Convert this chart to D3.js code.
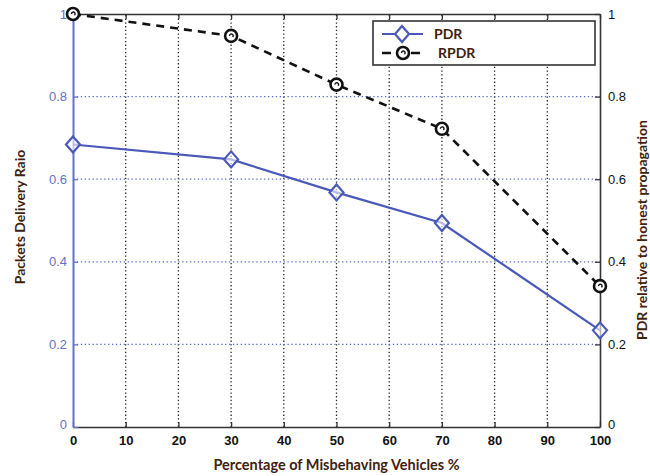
<!DOCTYPE html>
<html>
<head>
<meta charset="utf-8">
<script src="https://cdn.jsdelivr.net/npm/d3@7"></script>
<style>
  body { margin: 0; background: #fff; }
  svg { display: block; }
</style>
</head>
<body>
<div id="chart"></div>
<script>
// Data
const misbehaving = [0, 30, 50, 70, 100];
const pdrValues = [0.684, 0.648, 0.568, 0.494, 0.234];
const rpdrValues = [1.0, 0.947, 0.829, 0.722, 0.341];
const xTicks = [0, 10, 20, 30, 40, 50, 60, 70, 80, 90, 100];
const yTicks = [0, 0.2, 0.4, 0.6, 0.8, 1];
const seriesNames = ['PDR', 'RPDR'];

const width = 650;
const height = 476;
const margin = {top: 14, left: 73, right: 50, bottom: 49};

const blue = '#4a58b8';
const axisBlue = '#6572c8';
const titleColor = '#3f220c';
const fontTick = '"Liberation Sans", Arial, sans-serif';
const fontTitle = 'Lato, "Open Sans", sans-serif';

const svg = d3.select('#chart')
  .append('svg')
  .attr('width', width)
  .attr('height', height);

const xScale = d3.scaleLinear()
  .domain([0, 100])
  .range([margin.left, width - margin.right]);

const yScale = d3.scaleLinear()
  .domain([0, 1])
  .range([height - margin.bottom, margin.top]);

const x0 = xScale(0), x1 = xScale(100), y0 = yScale(0), y1 = yScale(1);

// Grid lines
svg.append('g')
  .selectAll('line')
  .data(xTicks.slice(1, -1))
  .enter()
  .append('line')
  .attr('x1', d => xScale(d)).attr('x2', d => xScale(d))
  .attr('y1', y0).attr('y2', y1)
  .attr('stroke', '#222')
  .attr('stroke-width', 1.3)
  .attr('stroke-dasharray', '1.3,2.4');

svg.append('g')
  .selectAll('line')
  .data(yTicks.slice(1, -1))
  .enter()
  .append('line')
  .attr('x1', x0).attr('x2', x1)
  .attr('y1', d => yScale(d)).attr('y2', d => yScale(d))
  .attr('stroke', '#5a66cc')
  .attr('stroke-width', 1.3)
  .attr('stroke-dasharray', '1.3,2.6');

// Bottom axis
const xAxis = svg.append('g')
  .attr('transform', `translate(0, ${y0})`)
  .call(d3.axisBottom(xScale).tickValues(xTicks).tickSizeInner(-5).tickSizeOuter(0).tickPadding(9));
xAxis.select('.domain').attr('stroke', '#333').attr('stroke-width', 1.6);
xAxis.selectAll('line').attr('stroke', '#333').attr('stroke-width', 1.3);
xAxis.selectAll('text')
  .style('font-family', fontTick)
  .style('font-size', '13px')
  .style('font-weight', 'bold')
  .attr('fill', '#111');

// Top axis (ticks only)
const topAxis = svg.append('g')
  .attr('transform', `translate(0, ${y1})`)
  .call(d3.axisTop(xScale).tickValues(xTicks).tickSizeInner(-5).tickSizeOuter(0));
topAxis.select('.domain').attr('stroke', '#333').attr('stroke-width', 1.6);
topAxis.selectAll('line').attr('stroke', '#333').attr('stroke-width', 1.3);
topAxis.selectAll('text').remove();

// Right axis
const rightAxis = svg.append('g')
  .attr('transform', `translate(${x1}, 0)`)
  .call(d3.axisRight(yScale).tickValues(yTicks).tickFormat(d3.format('~g')).tickSizeInner(-5).tickSizeOuter(0).tickPadding(8));
rightAxis.select('.domain').attr('stroke', '#333').attr('stroke-width', 1.6);
rightAxis.selectAll('line').attr('stroke', '#333').attr('stroke-width', 1.3);
rightAxis.selectAll('text')
  .style('font-family', fontTick)
  .style('font-size', '13px')
  .attr('fill', '#111');
rightAxis.selectAll('.tick')
  .filter(d => d === 0)
  .select('text').attr('dy', '0.1em');

// Left axis
const leftAxis = svg.append('g')
  .attr('transform', `translate(${x0}, 0)`)
  .call(d3.axisLeft(yScale).tickValues(yTicks).tickFormat(d3.format('~g')).tickSizeInner(-5).tickSizeOuter(0).tickPadding(6));
leftAxis.select('.domain').attr('stroke', axisBlue).attr('stroke-width', 2);
leftAxis.selectAll('line').attr('stroke', axisBlue).attr('stroke-width', 1.3);
leftAxis.selectAll('text')
  .style('font-family', fontTick)
  .style('font-size', '13px')
  .attr('fill', axisBlue);
leftAxis.selectAll('.tick')
  .filter(d => d === 0)
  .select('text').attr('dy', '0.1em');

// Axis titles
svg.append('text')
  .attr('x', (x0 + x1) / 2)
  .attr('y', 470)
  .style('text-anchor', 'middle')
  .style('font-family', fontTitle)
  .style('font-size', '14.5px')
  .style('font-weight', 'bold')
  .attr('fill', titleColor)
  .text('Percentage of Misbehaving Vehicles %');

svg.append('text')
  .attr('transform', 'rotate(-90)')
  .attr('x', -217)
  .attr('y', 25)
  .style('text-anchor', 'middle')
  .style('font-family', fontTitle)
  .style('font-size', '14px')
  .style('font-weight', 'bold')
  .attr('fill', titleColor)
  .text('Packets Delivery Raio');

svg.append('text')
  .attr('transform', 'rotate(-90)')
  .attr('x', -340)
  .attr('y', 647)
  .style('text-anchor', 'start')
  .style('font-family', fontTitle)
  .style('font-size', '14px')
  .style('font-weight', 'bold')
  .attr('fill', titleColor)
  .text('PDR relative to honest propagation');

// Lines
const pdrData = misbehaving.map((m, i) => ({x: m, y: pdrValues[i]}));
const rpdrData = misbehaving.map((m, i) => ({x: m, y: rpdrValues[i]}));

const line = d3.line()
  .x(d => xScale(d.x))
  .y(d => yScale(d.y));

svg.append('path')
  .datum(rpdrData)
  .attr('d', line)
  .attr('fill', 'none')
  .attr('stroke', '#111')
  .attr('stroke-width', 2.6)
  .attr('stroke-dasharray', '8,6');

svg.append('path')
  .datum(pdrData)
  .attr('d', line)
  .attr('fill', 'none')
  .attr('stroke', blue)
  .attr('stroke-width', 2.2);

const diamond = (cx, cy) => `M${cx},${cy - 8}L${cx + 7},${cy}L${cx},${cy + 8}L${cx - 7},${cy}Z`;

svg.append('g')
  .selectAll('path')
  .data(pdrData)
  .enter()
  .append('path')
  .attr('d', d => diamond(xScale(d.x), yScale(d.y)))
  .attr('fill', '#fff')
  .attr('fill-opacity', 0.6)
  .attr('stroke', blue)
  .attr('stroke-width', 2.2);

const circleMarks = svg.append('g')
  .selectAll('g')
  .data(rpdrData)
  .enter()
  .append('g')
  .attr('transform', d => `translate(${xScale(d.x)}, ${yScale(d.y)})`);
circleMarks.append('circle')
  .attr('r', 6)
  .attr('fill', '#fff')
  .attr('stroke', '#111')
  .attr('stroke-width', 2.6);
circleMarks.append('path')
  .attr('d', 'M-1.5,0A1.8,1.8 0 1 1 1.5,1.2')
  .attr('fill', 'none')
  .attr('stroke', '#111')
  .attr('stroke-width', 1.4);

// Legend
const legend = svg.append('g');
legend.append('rect')
  .attr('x', 373).attr('y', 21)
  .attr('width', 222).attr('height', 44)
  .attr('fill', '#fff')
  .attr('stroke', '#333')
  .attr('stroke-width', 1.6);

legend.append('line')
  .attr('x1', 382).attr('x2', 423)
  .attr('y1', 34).attr('y2', 34)
  .attr('stroke', blue).attr('stroke-width', 2.2);
legend.append('path')
  .attr('d', diamond(402, 34))
  .attr('fill', '#fff')
  .attr('stroke', blue).attr('stroke-width', 2.2);

legend.append('line')
  .attr('x1', 382).attr('x2', 420)
  .attr('y1', 53).attr('y2', 53)
  .attr('stroke', '#111').attr('stroke-width', 2.6)
  .attr('stroke-dasharray', '9,20');
const legendCircle = legend.append('g').attr('transform', 'translate(403, 53)');
legendCircle.append('circle')
  .attr('r', 6).attr('fill', '#fff')
  .attr('stroke', '#111').attr('stroke-width', 2.6);
legendCircle.append('path')
  .attr('d', 'M-1.5,0A1.8,1.8 0 1 1 1.5,1.2')
  .attr('fill', 'none').attr('stroke', '#111').attr('stroke-width', 1.4);

legend.selectAll('text.legend-label')
  .data(seriesNames)
  .enter()
  .append('text')
  .attr('class', 'legend-label')
  .attr('x', (d, i) => i === 0 ? 434 : 438)
  .attr('y', (d, i) => i === 0 ? 39 : 58)
  .style('font-family', fontTitle)
  .style('font-size', '14px')
  .style('font-weight', 'bold')
  .attr('fill', titleColor)
  .text(d => d);
</script>
</body>
</html>
